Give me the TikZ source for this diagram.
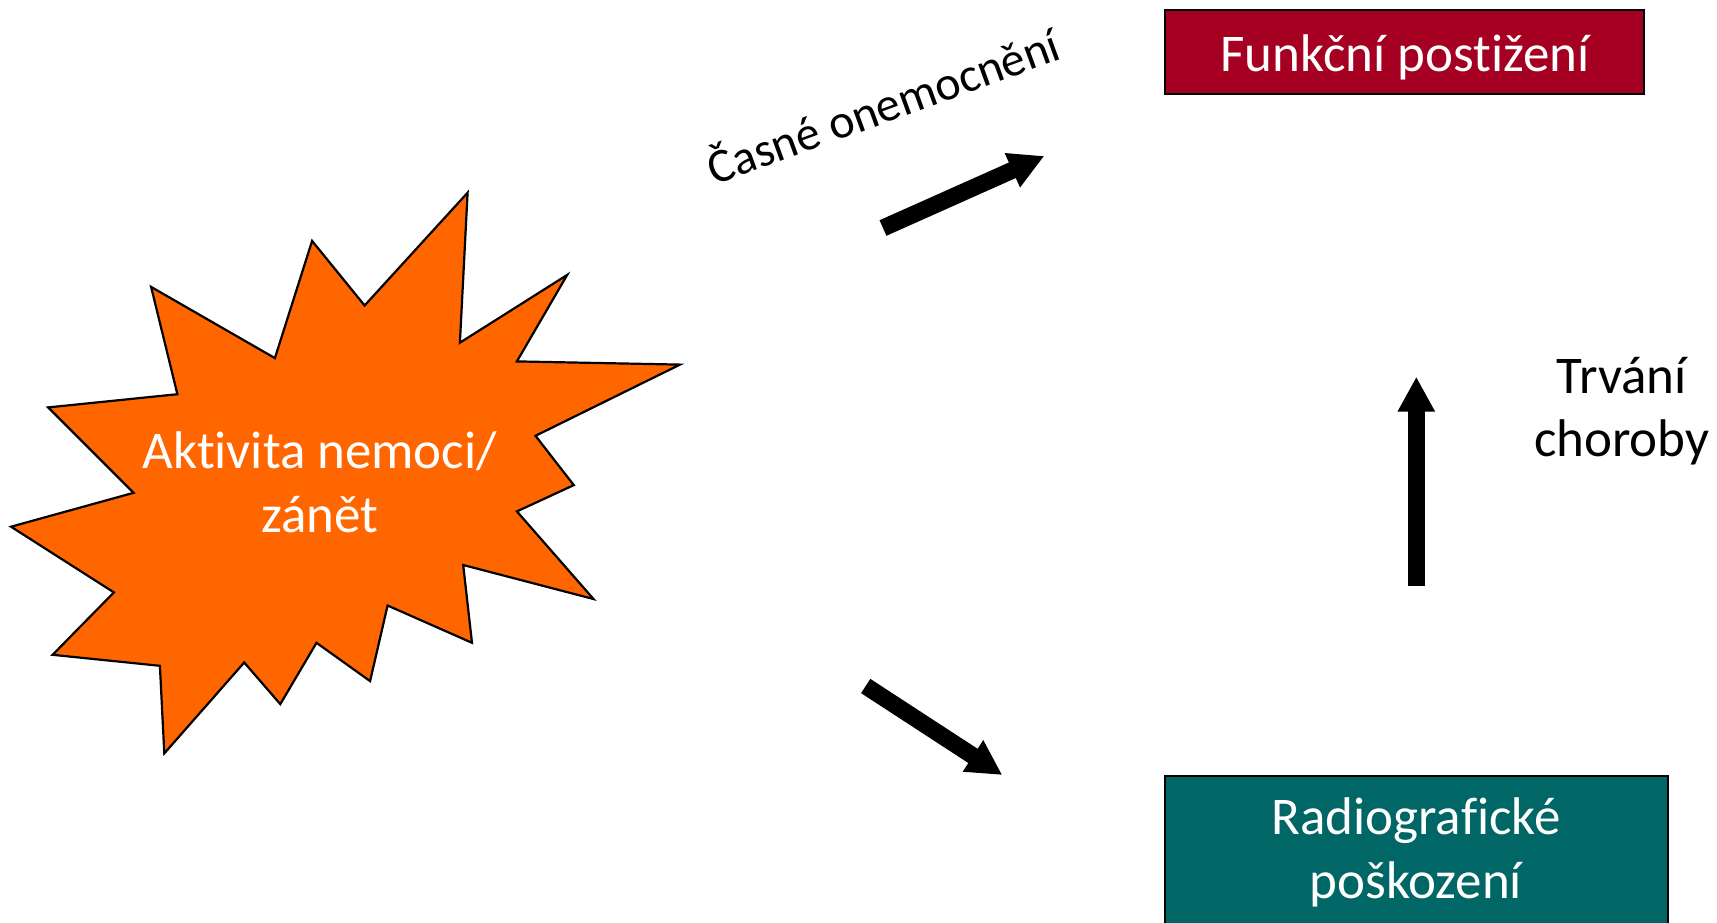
\documentclass[tikz,border=0pt]{standalone}
\usepackage{fontspec}
\setmainfont[Ligatures=NoCommon]{Carlito}
\usetikzlibrary{arrows.meta}
\definecolor{boxred}{HTML}{A50021}
\definecolor{boxteal}{HTML}{006666}
\definecolor{burst}{HTML}{FF6600}
\begin{document}
\begin{tikzpicture}[x=1pt,y=-1pt,
  bigtxt/.style={font=\fontsize{53}{63.5}\selectfont, inner sep=0pt, align=center},
  blockarrow/.style={line width=17pt, -{Triangle[length=35pt,width=35pt]}},
  boxstyle/.style={draw=black, line width=2pt}]
\useasboundingbox (0,0) rectangle (1717,922);
\clip (0,0) rectangle (1717,922);
% burst
\draw[fill=burst, line width=2.2pt, line join=miter]
 (151.1,286.9) -- (274.9,358.1) -- (312.1,240.9) -- (364.6,305.5) -- (467.6,192.7)
 -- (459.9,342.7) -- (567.2,274.9) -- (516.9,361.4) -- (680.0,364.6) -- (535.5,435.8)
 -- (573.8,485.1) -- (516.9,511.4) -- (593.5,599.0) -- (463.2,565.0) -- (472.0,642.8)
 -- (387.6,605.5) -- (370.1,681.1) -- (316.5,642.8) -- (280.3,704.1) -- (244.2,662.5)
 -- (164.3,753.4) -- (159.9,665.8) -- (52.6,654.8) -- (113.9,592.4) -- (11.0,526.7)
 -- (133.6,492.8) -- (48.2,407.4) -- (177.4,394.2) -- cycle;
\node[bigtxt, text=white, anchor=base] (akt) at (319.7,532.2) {Aktivita nemoci/\\zánět};
% boxes
\draw[boxstyle, fill=boxred] (1165,9.9) rectangle (1643.6,94.2);
\node[bigtxt, text=white, anchor=base] (funk) at (1405,71.2) {Funkční postižení};
\draw[boxstyle, fill=boxteal] (1165,776.4) rectangle (1667.7,940);
\node[bigtxt, text=white, anchor=base] (radio) at (1416,898) {Radiografické\\poškození};
% labels
\node[bigtxt, anchor=base] (trv) at (1621.7,456.6) {Trvání\\choroby};
\node[font=\fontsize{48}{57}\selectfont, inner sep=0pt, anchor=base, rotate=20] (casne) at (889,122) {Časné onemocnění};
% arrows
\coordinate (a1s) at (883,228);
\coordinate (a1e) at (1044.3,156);
\coordinate (a2s) at (865.7,686);
\coordinate (a2e) at (1002.3,775);
\coordinate (a3s) at (1416.3,585.7);
\coordinate (a3e) at (1416.3,376.7);
\draw[blockarrow] (a1s) -- (a1e);
\draw[blockarrow] (a2s) -- (a2e);
\draw[blockarrow] (a3s) -- (a3e);
\end{tikzpicture}
\end{document}
